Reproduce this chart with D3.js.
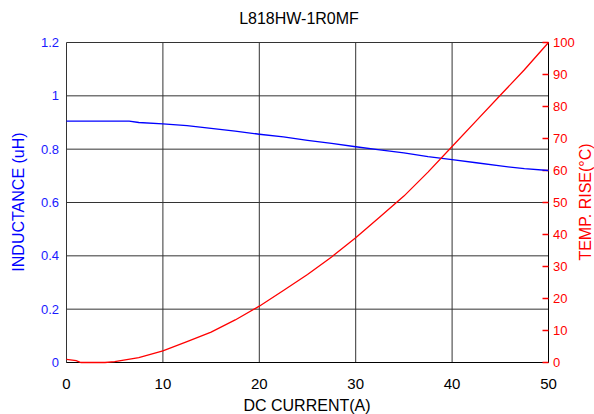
<!DOCTYPE html>
<html>
<head>
<meta charset="utf-8">
<script src="https://cdn.jsdelivr.net/npm/d3@7"></script>
<style>
  body { margin: 0; background: #fff; }
  text { font-family: "Liberation Sans", Arial, sans-serif; }
</style>
</head>
<body>
<svg width="594" height="414"></svg>
<script>
// data
const current = [0, 2.5, 5, 6.5, 7.5, 10, 12.5, 15, 17.5, 20, 22.5, 25, 27.5, 30, 32.5, 35, 37.5, 40, 42.5, 45, 47.5, 50];
const inductance = [0.905, 0.905, 0.905, 0.905, 0.9, 0.895, 0.888, 0.878, 0.868, 0.856, 0.846, 0.833, 0.822, 0.809, 0.797, 0.786, 0.772, 0.761, 0.749, 0.737, 0.727, 0.72];

const tempCurrent = [0, 1, 1.5, 4, 5, 7.5, 10, 12.5, 15, 17.5, 20, 22.5, 25, 27.5, 30, 32.5, 35, 37.5, 40, 42.5, 45, 47.5, 50];
const tempRise = [1, 0.6, 0, 0, 0.3, 1.5, 3.6, 6.5, 9.5, 13.3, 17.6, 22.5, 27.5, 33, 39, 45.5, 52, 59.5, 67.5, 75.5, 83.5, 91.5, 100];

const xTicks = [0, 10, 20, 30, 40, 50];
const leftTicks = [0, 0.2, 0.4, 0.6, 0.8, 1, 1.2];
const rightTicks = [0, 10, 20, 30, 40, 50, 60, 70, 80, 90, 100];

const svg = d3.select('svg');
const plotL = 66.5, plotR = 548.5, plotT = 42.5, plotB = 362.5;

const x = d3.scaleLinear().domain([0, 50]).range([plotL, plotR]);
const yL = d3.scaleLinear().domain([0, 1.2]).range([plotB, plotT]);
const yR = d3.scaleLinear().domain([0, 100]).range([plotB, plotT]);

// grid
svg.append('g').selectAll('line').data(leftTicks).join('line')
  .attr('x1', plotL).attr('x2', plotR)
  .attr('y1', d => yL(d)).attr('y2', d => yL(d))
  .attr('stroke', '#333').attr('stroke-width', 1);
svg.append('g').selectAll('line').data(xTicks).join('line')
  .attr('x1', d => x(d)).attr('x2', d => x(d))
  .attr('y1', plotT).attr('y2', plotB)
  .attr('stroke', '#333').attr('stroke-width', 1);

// frame
svg.append('line').attr('x1', plotL).attr('x2', plotR).attr('y1', plotB).attr('y2', plotB).attr('stroke', '#000');
svg.append('line').attr('x1', plotR).attr('x2', plotR).attr('y1', plotT).attr('y2', plotB).attr('stroke', '#000');

// right ticks (red, inward)
svg.append('g').selectAll('line').data(rightTicks).join('line')
  .attr('x1', plotR - 6).attr('x2', plotR)
  .attr('y1', d => yR(d)).attr('y2', d => yR(d))
  .attr('stroke', 'red').attr('stroke-width', 1.5);

// tick labels
svg.append('g').selectAll('text').data(leftTicks).join('text')
  .attr('x', 59).attr('y', d => yL(d) + 4.5)
  .attr('text-anchor', 'end').attr('fill', '#1a1aff').attr('font-size', 13)
  .text(d => d3.format('~g')(d));
svg.append('g').selectAll('text').data(rightTicks).join('text')
  .attr('x', 553).attr('y', d => yR(d) + 4.5)
  .attr('fill', 'red').attr('font-size', 13)
  .text(d => d);
svg.append('g').selectAll('text').data(xTicks).join('text')
  .attr('x', d => x(d)).attr('y', 389)
  .attr('text-anchor', 'middle').attr('fill', '#000').attr('font-size', 15)
  .text(d => d);

// lines
const lineL = d3.line().x((d, i) => x(current[i])).y(d => yL(d));
svg.append('path').datum(inductance)
  .attr('d', lineL).attr('fill', 'none').attr('stroke', 'blue').attr('stroke-width', 1.3);

const lineR = d3.line().x((d, i) => x(tempCurrent[i])).y(d => yR(d));
svg.append('path').datum(tempRise)
  .attr('d', lineR).attr('fill', 'none').attr('stroke', 'red').attr('stroke-width', 1.3);

// titles
svg.append('text').attr('x', 299).attr('y', 24)
  .attr('text-anchor', 'middle').attr('font-size', 16).attr('fill', '#000')
  .text('L818HW-1R0MF');
svg.append('text').attr('x', 307).attr('y', 411)
  .attr('text-anchor', 'middle').attr('font-size', 16).attr('fill', '#000')
  .text('DC CURRENT(A)');
svg.append('text')
  .attr('transform', 'translate(24, 202) rotate(-90)')
  .attr('text-anchor', 'middle').attr('font-size', 16).attr('fill', 'blue')
  .text('INDUCTANCE (uH)');
svg.append('text')
  .attr('transform', 'translate(591, 202) rotate(-90)')
  .attr('text-anchor', 'middle').attr('font-size', 16).attr('fill', 'red')
  .text('TEMP. RISE(°C)');
</script>
</body>
</html>
